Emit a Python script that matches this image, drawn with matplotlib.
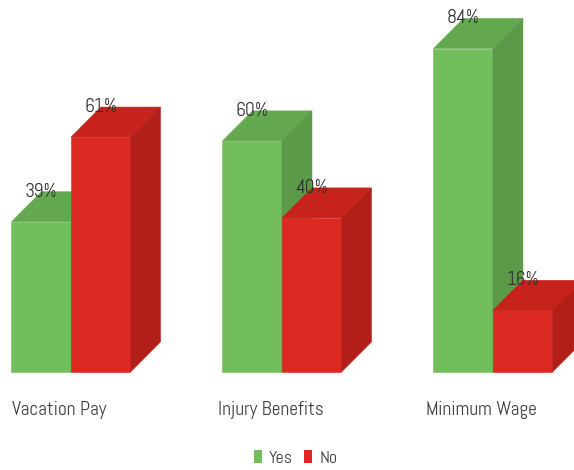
import matplotlib.pyplot as plt
from matplotlib.patches import Polygon, Rectangle

plt.rcParams['font.family'] = ['Abel', 'DejaVu Sans']

categories = ["Vacation Pay", "Injury Benefits", "Minimum Wage"]
yes_vals = [39, 60, 84]
no_vals = [61, 40, 16]
series_names = ["Yes", "No"]

# front / top / side shades for each series
shades = {
    "Yes": ("#72bd5c", "#64a950", "#5c9a49"),
    "No": ("#dc2a22", "#c7231c", "#b21f19"),
}

width = 0.282      # bar width in category units
dx, dy = 0.142, 7.8  # depth offset of the pseudo-3D faces

fig = plt.figure(figsize=(5.74, 4.70), dpi=100)
ax = fig.add_axes([0, 0, 1, 1])
ax.set_xlim(-0.3365, 2.384)
ax.set_ylim(-25.45, 96.6)
ax.axis("off")


def face(pts, color):
    ax.add_patch(Polygon(pts, closed=True, facecolor=color, edgecolor=color, linewidth=0.4))


def bar3d(x0, h, name):
    front, top, side = shades[name]
    x1 = x0 + width
    face([(x0, 0), (x1, 0), (x1, h), (x0, h)], front)
    face([(x0, h), (x1, h), (x1 + dx, h + dy), (x0 + dx, h + dy)], top)
    face([(x1, 0), (x1 + dx, dy), (x1 + dx, h + dy), (x1, h)], side)
    ax.text(x0 + width / 2, h + dy, f"{h}%", ha="center", va="center",
            fontsize=14, color="#303030")


for i, cat in enumerate(categories):
    bar3d(i - width, yes_vals[i], "Yes")
    bar3d(i, no_vals[i], "No")
    ax.text(i - 0.055, -9.9, cat, ha="center", va="center", fontsize=14, color="#404040")

handles = [Rectangle((0, 0), 1, 1, facecolor=shades[n][0]) for n in series_names]
fig.legend(handles, series_names, loc="center", bbox_to_anchor=(0.515, 0.025), ncol=2,
           frameon=False, fontsize=13, handlelength=0.45, handleheight=0.8,
           handletextpad=0.4, columnspacing=0.6, labelcolor="#404040")

fig.savefig("out.png", dpi=100)
